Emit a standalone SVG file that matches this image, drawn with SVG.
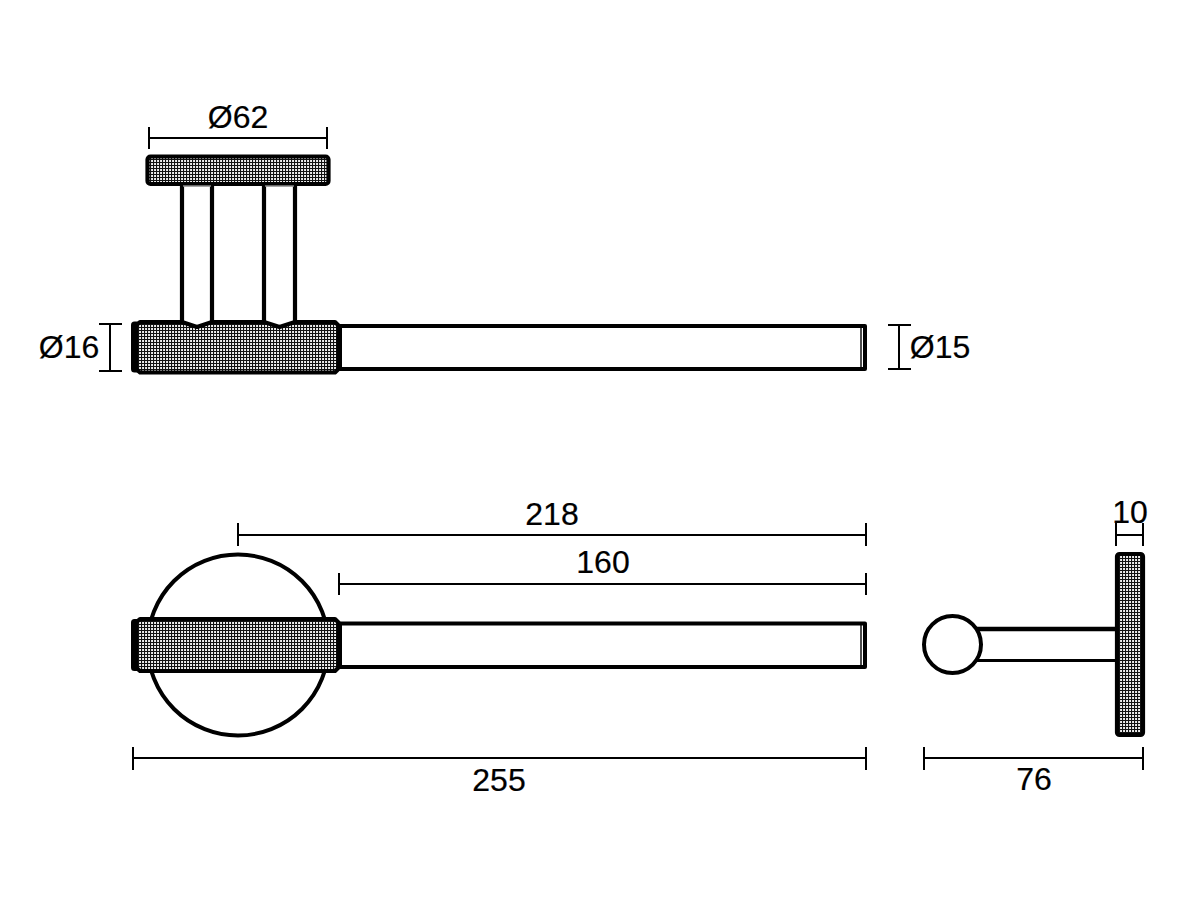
<svg xmlns="http://www.w3.org/2000/svg" width="1200" height="900" viewBox="0 0 1200 900">
<style>
.o{fill:none;stroke:#000;stroke-width:4.200;stroke-linejoin:round}
.w{fill:#fff;stroke:#000;stroke-width:4;stroke-linejoin:round}
.k{fill:url(#knurl);stroke:#000;stroke-width:4.200;stroke-linejoin:round}
.t{fill:none;stroke:#000;stroke-width:1.400}
.d{fill:none;stroke:#000;stroke-width:2}
text{font-family:"Liberation Sans",Arial,sans-serif;font-size:32px;fill:#000;text-anchor:middle;stroke:#000;stroke-width:.2}
</style>
<defs>
<pattern id="knurl" width="3" height="3" patternUnits="userSpaceOnUse">
<rect width="3" height="3" fill="#eee"/>
<path d="M.5 0V3M0 .5H3" stroke="#111" stroke-width="1.150" fill="none"/>
</pattern>
</defs>
<g id="top-view">
<g id="top-bar"><path class="w" d="M340 326H865V369H340Z"/><path class="t" d="M861 326V369"/></g>
<g id="top-cap"><rect class="w" x="133" y="323.500" width="5" height="47" rx="1.500"/></g>
<g id="top-barrel"><path class="k" d="M140 322H335L338.500 325.500V369L335 372.500H140L136 369V325.500Z"/></g>
<g id="top-plate"><rect class="k" x="147.500" y="156.500" width="181" height="27.500" rx="3"/></g>
<g id="post-1"><path d="M182 186H212V322L197 327L182 322Z" fill="#fff" stroke="none"/><path class="o" d="M182 186V322L197 327L212 322V186"/><path d="M183 186H211" stroke="#888" stroke-width="1.500"/></g>
<g id="post-2"><path d="M264 186H295V322L279.500 327L264 322Z" fill="#fff" stroke="none"/><path class="o" d="M264 186V322L279.500 327L295 322V186"/><path d="M265 186H294" stroke="#888" stroke-width="1.500"/></g>
</g>
<g id="front-view">
<g id="front-disc"><circle class="w" cx="238" cy="645" r="90.500"/></g>
<g id="front-bar"><path class="w" d="M340 623.500H865V667H340Z"/><path class="t" d="M861 623.500V667"/></g>
<g id="front-cap"><rect class="w" x="133" y="621" width="5" height="48" rx="1.500"/></g>
<g id="front-barrel"><path class="k" d="M140 619H335L338.500 622.500V667.500L335 671H140L136 667.500V622.500Z"/></g>
</g>
<g id="side-view">
<g id="side-arm"><path d="M976 629H1116" stroke="#000" stroke-width="4.500" fill="none"/><path d="M976 660.500H1116" stroke="#000" stroke-width="3" fill="none"/></g>
<g id="side-ball"><circle class="w" cx="952.500" cy="644.500" r="28.500"/></g>
<g id="side-plate"><rect class="k" x="1117" y="554" width="26" height="181" rx="2.500"/></g>
</g>
<g id="connectors">
<path class="d" d="M149 138H327M149 127V149M327 127V149"/>
<path class="d" d="M110 325V370M99 324H122M99 371H122"/>
<path class="d" d="M899 325V369M888 325H911M888 369H911"/>
<path class="d" d="M238 535H866M238 523V546M866 523V546"/>
<path class="d" d="M339 584H866M339 573V595M866 573V595"/>
<path class="d" d="M1116 535H1143M1116 523V546M1143 523V546"/>
<path class="d" d="M133 758H866M133 747V770M866 747V770"/>
<path class="d" d="M924 758H1143M924 747V770M1143 747V770"/>
</g>
<g id="labels">
<text x="238" y="128">Ø62</text>
<text x="69" y="358">Ø16</text>
<text x="940" y="358">Ø15</text>
<text x="552" y="525">218</text>
<text x="603" y="573">160</text>
<text x="1130" y="523">10</text>
<text x="499" y="791">255</text>
<text x="1034" y="790">76</text>
</g>
</svg>
